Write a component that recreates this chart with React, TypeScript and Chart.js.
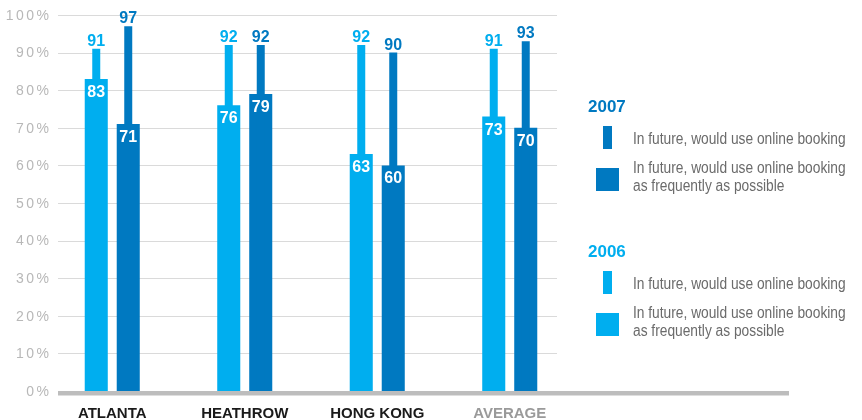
import React, { useEffect, useRef } from "react";
import { Chart, registerables } from "chart.js";

Chart.register(...registerables);

// Airports surveyed, plus the overall average
const categories = ["ATLANTA", "HEATHROW", "HONG KONG", "AVERAGE"];

// 2006 survey (%)
const wouldUse2006 = [91, 92, 92, 91];
const asFrequently2006 = [83, 76, 63, 73];

// 2007 survey (%)
const wouldUse2007 = [97, 92, 90, 93];
const asFrequently2007 = [71, 79, 60, 70];

const yTicks = [0, 10, 20, 30, 40, 50, 60, 70, 80, 90, 100];

const LIGHT = "#00aeef";
const DARK = "#0079c1";
const GRID = "#dadada";
const AXIS = "#bdbdbd";
const TEXT_GREY = "#6b6b6b";

const overlayPlugin = {
  id: "overlay",
  beforeDatasetsDraw(chart: any) {
    const ctx = chart.ctx;
    const y = chart.scales.y;
    ctx.save();
    // horizontal grid
    ctx.strokeStyle = GRID;
    ctx.lineWidth = 1;
    yTicks.forEach((v) => {
      if (v === 0) return;
      const py = Math.round(y.getPixelForValue(v)) + 0.5;
      ctx.beginPath();
      ctx.moveTo(58, py);
      ctx.lineTo(557, py);
      ctx.stroke();
    });
    // tick labels
    ctx.fillStyle = "#b8b8b8";
    ctx.font = "14px 'Liberation Sans', Arial, sans-serif";
    ctx.textAlign = "right";
    ctx.textBaseline = "middle";
    (ctx as any).letterSpacing = "2.5px";
    yTicks.forEach((v) => {
      ctx.fillText(`${v}%`, 51.5, y.getPixelForValue(v) + 1);
    });
    (ctx as any).letterSpacing = "0px";
    ctx.restore();
  },
  afterDatasetsDraw(chart: any) {
    const ctx = chart.ctx;
    const x = chart.scales.x;
    const y = chart.scales.y;
    ctx.save();
    // base axis
    ctx.fillStyle = AXIS;
    ctx.fillRect(58, y.getPixelForValue(0), 731, 4.5);

    // value labels
    ctx.font = "bold 16px 'Liberation Sans', Arial, sans-serif";
    ctx.textAlign = "center";
    ctx.textBaseline = "alphabetic";
    chart.data.datasets.forEach((ds: any, di: number) => {
      const meta = chart.getDatasetMeta(di);
      meta.data.forEach((bar: any, i: number) => {
        const v = ds.data[i];
        if (ds.thin) {
          ctx.fillStyle = ds.backgroundColor;
          ctx.fillText(String(v), bar.x, bar.y - 3);
        } else {
          ctx.fillStyle = "#ffffff";
          ctx.fillText(String(v), bar.x, bar.y + 18);
        }
      });
    });

    // category labels
    ctx.font = "bold 15px 'Liberation Sans', Arial, sans-serif";
    categories.forEach((c, i) => {
      ctx.fillStyle = c === "AVERAGE" ? "#9a9a9a" : "#1a1a1a";
      ctx.fillText(c, x.getPixelForValue(i), 418);
    });
    ctx.restore();
  },
};

const legendText: React.CSSProperties = {
  position: "absolute",
  left: 633,
  fontFamily: "'Liberation Sans', Arial, sans-serif",
  fontSize: 16,
  lineHeight: "18px",
  color: TEXT_GREY,
  whiteSpace: "nowrap",
  transform: "scaleX(0.86)",
  transformOrigin: "0 0",
};

function LegendBlock(props: { year: string; color: string; mid: number }) {
  const { year, color, mid } = props;
  return (
    <>
      <div
        style={{
          position: "absolute",
          left: 588,
          top: mid - 11,
          fontFamily: "'Liberation Sans', Arial, sans-serif",
          fontWeight: "bold",
          fontSize: 17,
          lineHeight: "22px",
          color,
        }}
      >
        {year}
      </div>
      <div style={{ position: "absolute", left: 603, top: mid + 19, width: 9, height: 23, background: color }} />
      <div style={{ ...legendText, top: mid + 23 }}>In future, would use online booking</div>
      <div style={{ position: "absolute", left: 596, top: mid + 61, width: 23, height: 23, background: color }} />
      <div style={{ ...legendText, top: mid + 52 }}>
        In future, would use online booking
        <br />
        as frequently as possible
      </div>
    </>
  );
}

export default function App() {
  const canvasRef = useRef<HTMLCanvasElement | null>(null);

  useEffect(() => {
    const canvas = canvasRef.current;
    if (!canvas) return;
    const chart = new Chart(canvas, {
      type: "bar",
      data: {
        labels: categories,
        datasets: [
          {
            label: "2006 would use",
            data: wouldUse2006,
            backgroundColor: LIGHT,
            stack: "2006",
            barPercentage: 0.25,
            thin: true,
          } as any,
          {
            label: "2006 as frequently as possible",
            data: asFrequently2006,
            backgroundColor: LIGHT,
            stack: "2006",
            barPercentage: 0.72,
          } as any,
          {
            label: "2007 would use",
            data: wouldUse2007,
            backgroundColor: DARK,
            stack: "2007",
            barPercentage: 0.25,
            thin: true,
          } as any,
          {
            label: "2007 as frequently as possible",
            data: asFrequently2007,
            backgroundColor: DARK,
            stack: "2007",
            barPercentage: 0.72,
          } as any,
        ],
      },
      options: {
        responsive: false,
        animation: false,
        devicePixelRatio: 1,
        layout: { padding: { left: 46, right: 286, top: 15, bottom: 29 } },
        datasets: { bar: { categoryPercentage: 0.483 } },
        plugins: { legend: { display: false }, tooltip: { enabled: false } },
        scales: {
          x: { display: false, grid: { display: false } },
          y: { display: false, min: 0, max: 100, stacked: false },
        },
      } as any,
      plugins: [overlayPlugin],
    });
    return () => chart.destroy();
  }, []);

  return (
    <div style={{ position: "absolute", left: 0, top: 0, width: 862, height: 420, background: "#fff", overflow: "hidden" }}>
      <canvas ref={canvasRef} width={862} height={420} style={{ display: "block" }} />
      <LegendBlock year="2007" color={DARK} mid={107} />
      <LegendBlock year="2006" color={LIGHT} mid={252} />
    </div>
  );
}
